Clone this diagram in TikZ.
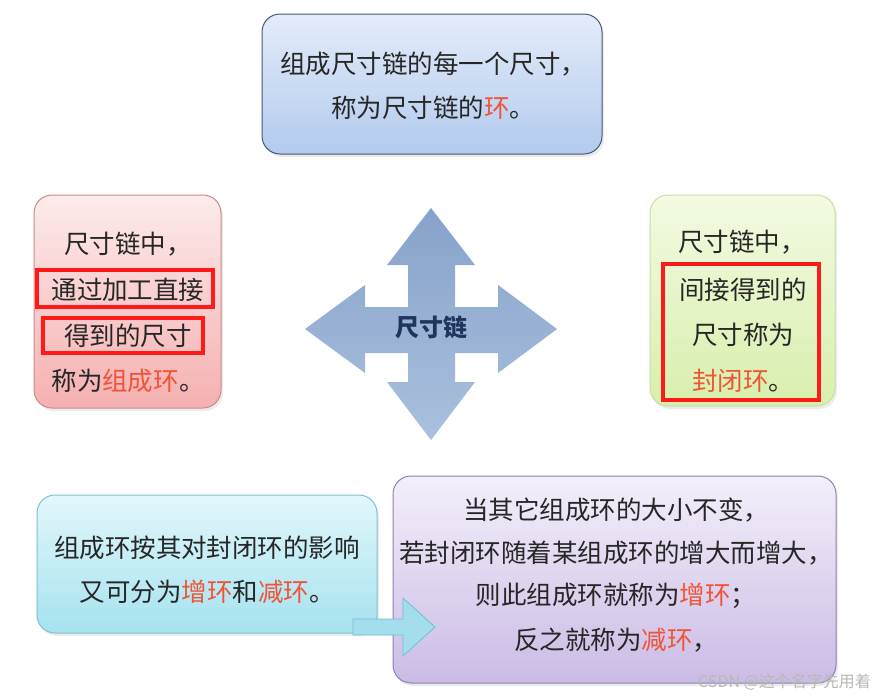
\documentclass[tikz,border=0pt]{standalone}
\usepackage{fontspec}
\setmainfont{Noto Sans CJK SC}
\usetikzlibrary{shadows}
\definecolor{textdark}{HTML}{262626}
\definecolor{hl}{HTML}{EE5538}
\definecolor{redbox}{HTML}{FF1A1A}
\definecolor{topA}{HTML}{E4ECF9}
\definecolor{topB}{HTML}{B2CAEE}
\definecolor{topD}{HTML}{4A5670}
\definecolor{leftA}{HTML}{FDEBEB}
\definecolor{leftB}{HTML}{F5B0B0}
\definecolor{leftD}{HTML}{C98A8A}
\definecolor{rightA}{HTML}{F3FAE2}
\definecolor{rightB}{HTML}{D8EFAC}
\definecolor{rightD}{HTML}{C9DDA8}
\definecolor{blA}{HTML}{E2F7FB}
\definecolor{blB}{HTML}{A6E2EF}
\definecolor{blD}{HTML}{7CC2D2}
\definecolor{brA}{HTML}{F4EFFA}
\definecolor{brB}{HTML}{CBBBE5}
\definecolor{brD}{HTML}{8E82AE}
\definecolor{crossA}{HTML}{87A2CA}
\definecolor{crossB}{HTML}{AAC0DE}
\definecolor{chainC}{HTML}{1F355C}
\definecolor{arrA}{HTML}{A4DDEC}
\definecolor{arrD}{HTML}{6FBFD4}
\tikzset{
  box/.style={draw, rounded corners=18pt, line width=1pt, inner sep=0pt,
    drop shadow={opacity=0.15, shadow xshift=2pt, shadow yshift=-3pt}},
  txt/.style={font=\fontsize{25.5}{30}\selectfont, text=textdark, inner sep=0pt},
  mark box/.style={draw=redbox, line width=3.2pt, inner sep=0pt},
}
\begin{document}
\begin{tikzpicture}[x=1pt,y=-1pt]
\useasboundingbox (0,0) rectangle (876,697);
\fill[white] (0,0) rectangle (876,697);

% boxes
\node[box, draw=topD, top color=topA, bottom color=topB,
  minimum width=340pt, minimum height=140pt] (top) at (432,84) {};
\node[box, draw=leftD, top color=leftA, bottom color=leftB,
  minimum width=187pt, minimum height=213pt] (left) at (127.5,301.5) {};
\node[box, draw=rightD, top color=rightA, bottom color=rightB,
  minimum width=185pt, minimum height=211pt] (right) at (742.5,300.5) {};
\node[box, draw=blD, top color=blA, bottom color=blB,
  minimum width=340pt, minimum height=138pt] (bl) at (207,564) {};
\node[box, draw=brD, top color=brA, bottom color=brB,
  minimum width=443pt, minimum height=207pt] (br) at (614.5,579.5) {};

% cross arrow
\path[top color=crossA, bottom color=crossB, draw=none]
  (431,208) -- (475,265) -- (455,265) -- (455,307) -- (498,307) -- (498,285) -- (557,329)
  -- (498,373) -- (498,353) -- (455,353) -- (455,382) -- (475,382) -- (431,440)
  -- (387,382) -- (408,382) -- (408,353) -- (365,353) -- (365,373) -- (305,329)
  -- (365,285) -- (365,307) -- (408,307) -- (408,265) -- (387,265) -- cycle;
\node[font=\fontsize{24}{28}\selectfont\bfseries, text=chainC, inner sep=0pt] (chain) at (431,327) {尺寸链};

% top text
\node[txt] (t1) at (433,64) {组成尺寸链的每一个尺寸，};
\node[txt] (t2) at (433,108) {称为尺寸链的\textcolor{hl}{环}。};

% left text
\node[txt] (l1) at (128,244) {尺寸链中，};
\node[txt] (l2) at (128,290) {通过加工直接};
\node[txt] (l3) at (128,336) {得到的尺寸};
\node[txt] (l4) at (128,381) {称为\textcolor{hl}{组成环}。};
\node[mark box, minimum width=176pt, minimum height=37pt] (m1) at (125,288.5) {};
\node[mark box, minimum width=160pt, minimum height=35pt] (m2) at (123,335.5) {};

% right text
\node[txt] (r1) at (742,242) {尺寸链中，};
\node[txt] (r2) at (743,290) {间接得到的};
\node[txt] (r3) at (743,335) {尺寸称为};
\node[txt] (r4) at (743,381) {\textcolor{hl}{封闭环}。};
\node[mark box, minimum width=156pt, minimum height=136pt] (m3) at (741,332) {};

% bottom-left text
\node[txt] (b1) at (207,548) {组成环按其对封闭环的影响};
\node[txt] (b2) at (207,592) {又可分为\textcolor{hl}{增环}和\textcolor{hl}{减环}。};

% small arrow
\path[fill=arrA, draw=arrD, line width=0.8pt]
  (353,619) -- (403,619) -- (403,598) -- (435,627) -- (403,656) -- (403,635) -- (353,635) -- cycle;

% bottom-right text
\node[txt] (c1) at (616,510) {当其它组成环的大小不变，};
\node[txt] (c2) at (616,553) {若封闭环随着某组成环的增大而增大，};
\node[txt] (c3) at (616,596) {则此组成环就称为\textcolor{hl}{增环}；};
\node[txt] (c4) at (616,640) {反之就称为\textcolor{hl}{减环}，};

% watermark
\node[font=\fontsize{16}{18}\selectfont, text=black!28, inner sep=0pt, anchor=east] (wm) at (871,682) {CSDN @这个名字先用着};
\end{tikzpicture}
\end{document}
